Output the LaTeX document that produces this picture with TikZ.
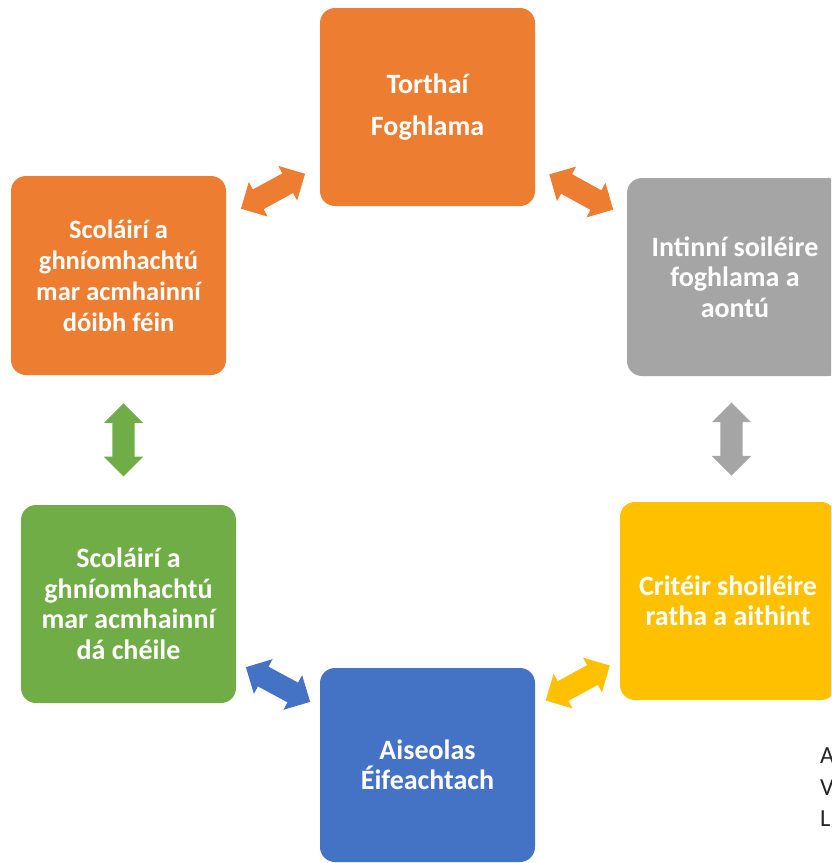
\documentclass[tikz,border=0pt]{standalone}
\usepackage{fontspec}
\setmainfont{Carlito}
\usetikzlibrary{shapes.arrows,calc}
\definecolor{cOrange}{HTML}{ED7D31}
\definecolor{cGray}{HTML}{A5A5A5}
\definecolor{cYellow}{HTML}{FFC000}
\definecolor{cBlue}{HTML}{4472C4}
\definecolor{cGreen}{HTML}{70AD47}
\tikzset{
  box/.style={rectangle, rounded corners=15pt, minimum width=216pt, minimum height=198pt,
    inner sep=0pt, align=center, text=white, font=\bfseries\fontsize{28}{30.5}\selectfont},
  dblarrow/.style={double arrow, minimum height=73pt, minimum width=39pt, inner sep=11pt,
    double arrow head extend=8.5pt, double arrow tip angle=90, draw=none},
}
\begin{document}
\begin{tikzpicture}[x=1pt,y=-1pt]
\clip (0,0) rectangle (831,863);
\fill[white] (0,0) rectangle (831,863);
% boxes
\node[box, fill=cOrange, minimum width=215pt, font=\bfseries\fontsize{28}{42}\selectfont] (tb) at (427.5,107) {Torthaí\\Foghlama};
\node[box, fill=cOrange, minimum width=215pt, minimum height=199pt, font=\bfseries\fontsize{26.5}{31}\selectfont] (lu) at (118.5,275.5) {Scoláirí a\\ghníomhachtú\\mar acmhainní\\dóibh féin};
\node[box, fill=cGray] (ru) at (735,277) {Intinní soiléire\\foghlama a\\aontú};
\node[box, fill=cGreen, minimum width=215pt] (ll) at (128.5,604) {Scoláirí a\\ghníomhachtú\\mar acmhainní\\dá chéile};
\node[box, fill=cYellow] (rl) at (728,601) {Critéir shoiléire\\ratha a aithint};
\node[box, fill=cBlue, minimum width=215pt, minimum height=194pt] (bb) at (427.5,765) {Aiseolas\\Éifeachtach};
% connectors
\path (tb.center) -- node[dblarrow, sloped, fill=cOrange] (a1) {} (lu.center);
\path (tb.center) -- node[dblarrow, sloped, fill=cOrange] (a2) {} (ru.center);
\path (ll.center) -- node[dblarrow, sloped, fill=cBlue] (a3) {} (bb.center);
\path (rl.center) -- node[dblarrow, sloped, fill=cYellow] (a4) {} (bb.center);
\path (lu.center) -- coordinate[midway] (m1) (ll.center);
\path (ru.center) -- coordinate[midway] (m2) (rl.center);
\node[dblarrow, rotate=90, fill=cGreen] (a5) at (m1) {};
\node[dblarrow, rotate=90, fill=cGray] (a6) at (m2) {};
% cut-off text
\node[anchor=north west, inner sep=0pt, align=left, text=black!85,
  font=\fontsize{24.5}{31.5}\selectfont] (cut) at (820,748) {A\\V\\L};
\end{tikzpicture}
\end{document}
